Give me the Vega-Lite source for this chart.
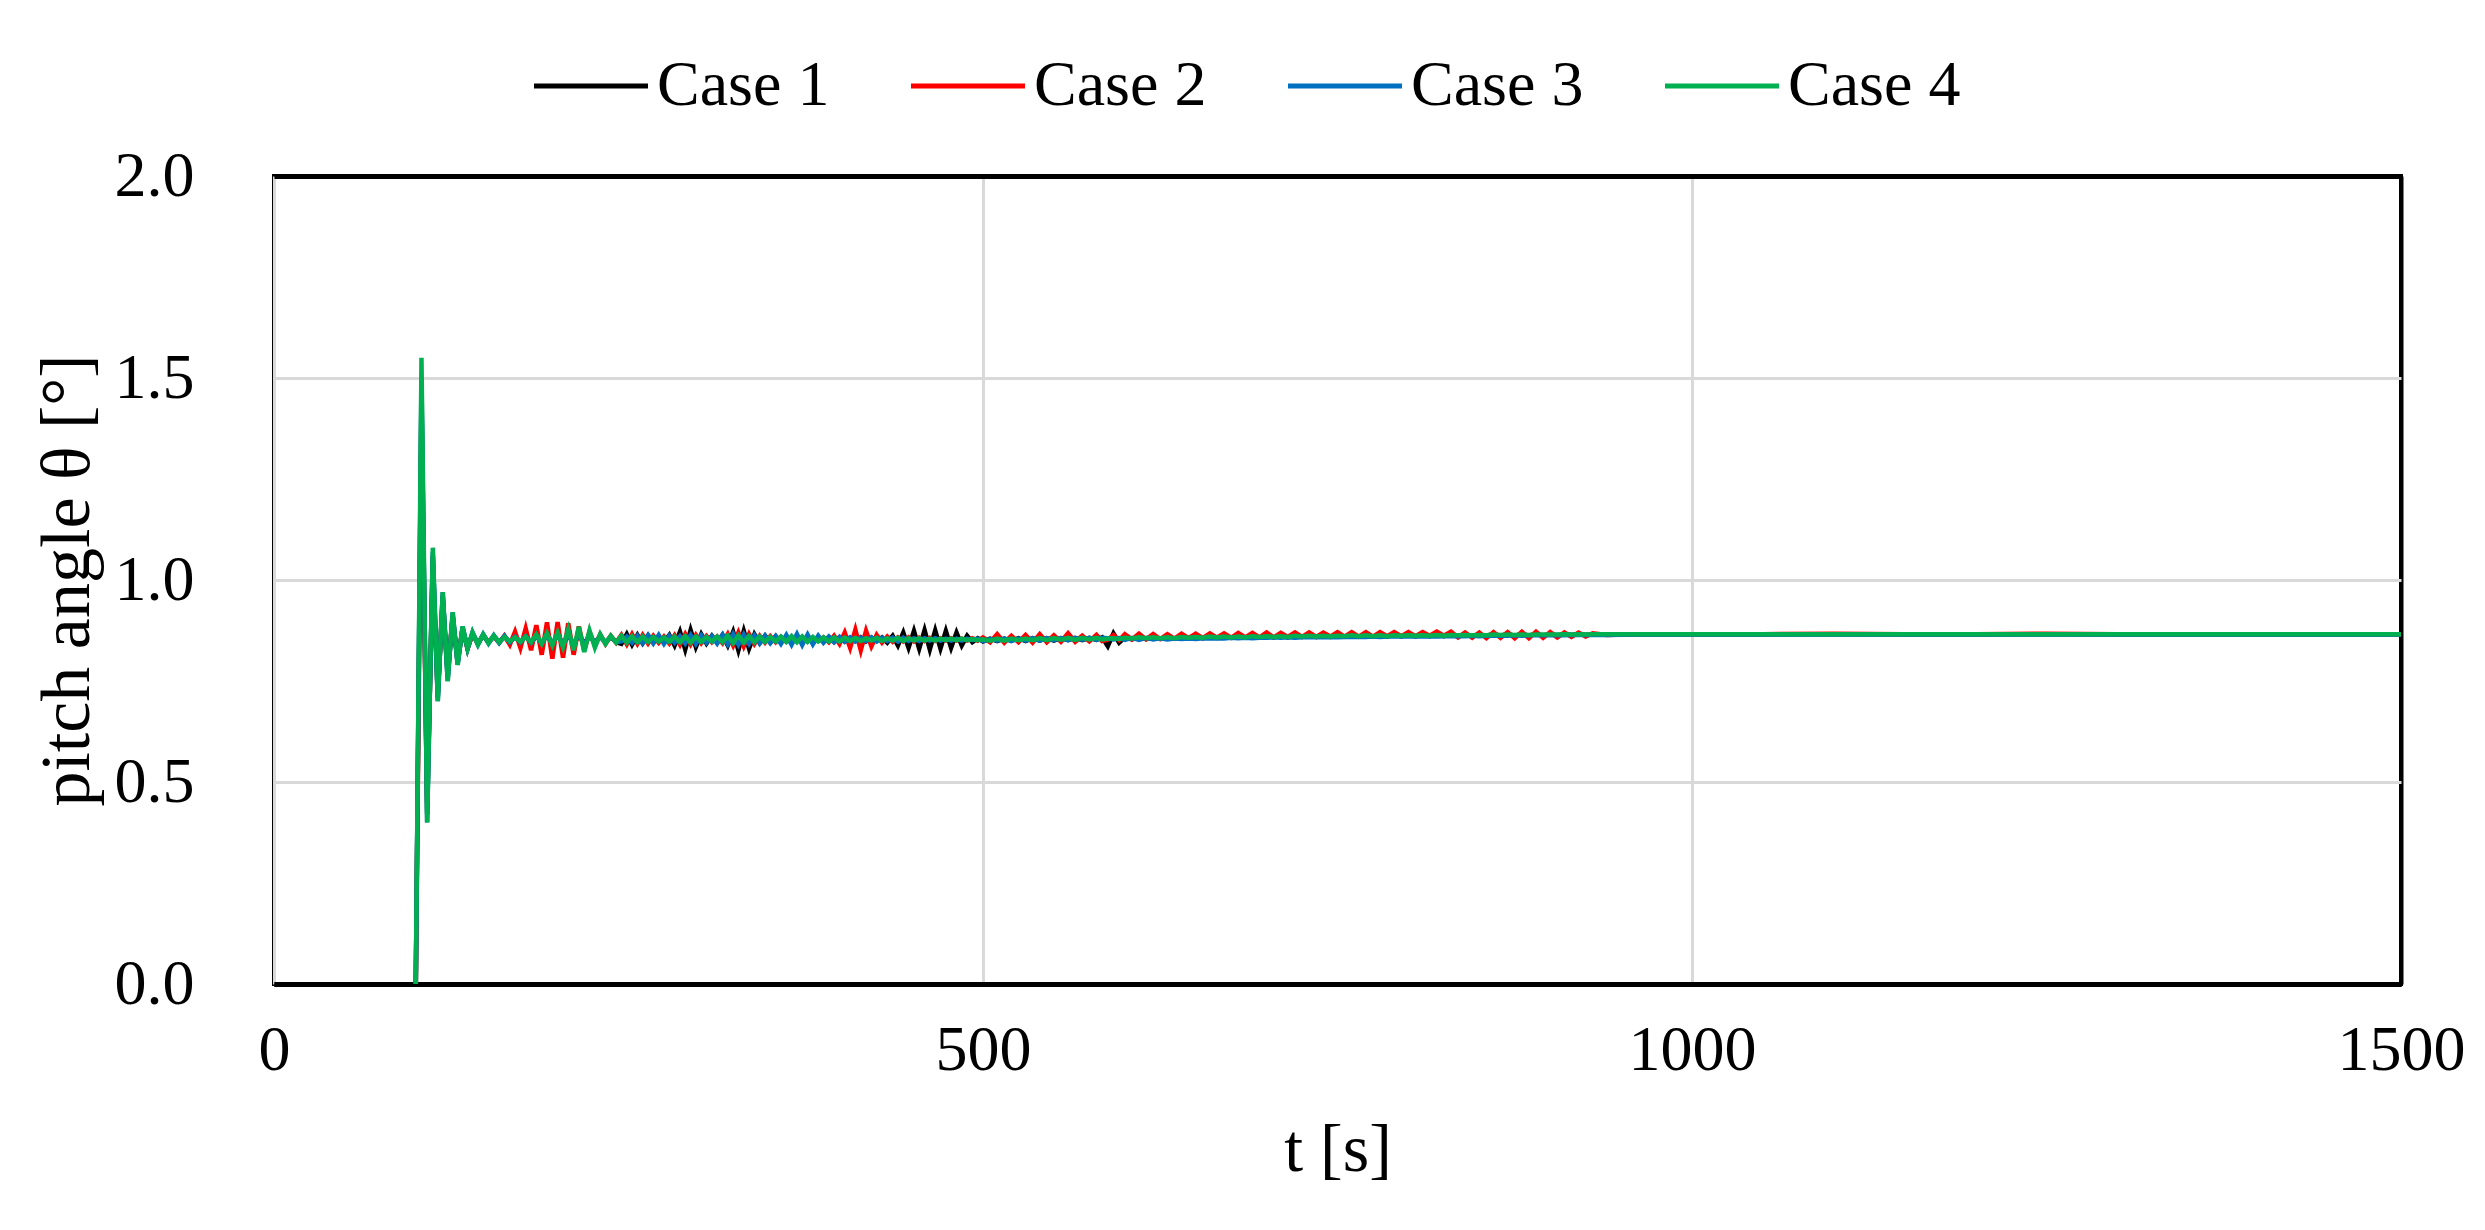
{
"$schema": "https://vega.github.io/schema/vega-lite/v6.json",
"width": 2127, "height": 808,
"autosize": {"type": "none"},
"padding": {"left": 274, "top": 176, "right": 84, "bottom": 246},
"background": "white",
"config": {"view": {"stroke": "black", "strokeWidth": 4}, "font": "Liberation Serif"},
"data": {"values": [
{"t":100,"Case 1":0,"Case 2":0,"Case 3":0,"Case 4":0},
{"t":104,"Case 1":1.46,"Case 2":1.38,"Case 3":1.5,"Case 4":1.55},
{"t":108,"Case 1":0.42,"Case 2":0.45,"Case 3":0.4,"Case 4":0.4},
{"t":112,"Case 1":1.06,"Case 2":1.03,"Case 3":1.07,"Case 4":1.08},
{"t":115.5,"Case 1":0.71,"Case 2":0.72,"Case 3":0.7,"Case 4":0.7},
{"t":119,"Case 1":0.96,"Case 2":0.95,"Case 3":0.97,"Case 4":0.97},
{"t":122.5,"Case 1":0.76,"Case 2":0.77,"Case 3":0.75,"Case 4":0.75},
{"t":126,"Case 1":0.91,"Case 2":0.91,"Case 3":0.92,"Case 4":0.92},
{"t":129.5,"Case 1":0.795,"Case 2":0.8,"Case 3":0.79,"Case 4":0.79},
{"t":133,"Case 1":0.88,"Case 2":0.88,"Case 3":0.885,"Case 4":0.885},
{"t":136.5,"Case 1":0.83,"Case 2":0.83,"Case 3":0.83,"Case 4":0.83},
{"t":140,"Case 1":0.868,"Case 2":0.866,"Case 3":0.87,"Case 4":0.87},
{"t":143.8,"Case 1":0.842,"Case 2":0.843,"Case 3":0.84,"Case 4":0.84},
{"t":147.5,"Case 1":0.864,"Case 2":0.862,"Case 3":0.866,"Case 4":0.865},
{"t":151.3,"Case 1":0.845,"Case 2":0.846,"Case 3":0.843,"Case 4":0.844},
{"t":155,"Case 1":0.861,"Case 2":0.86,"Case 3":0.863,"Case 4":0.862},
{"t":158.8,"Case 1":0.846,"Case 2":0.845,"Case 3":0.844,"Case 4":0.846},
{"t":162.5,"Case 1":0.86,"Case 2":0.862,"Case 3":0.861,"Case 4":0.859},
{"t":166.3,"Case 1":0.845,"Case 2":0.84,"Case 3":0.846,"Case 4":0.848},
{"t":170,"Case 1":0.862,"Case 2":0.872,"Case 3":0.859,"Case 4":0.858},
{"t":173.8,"Case 1":0.844,"Case 2":0.832,"Case 3":0.846,"Case 4":0.847},
{"t":177.5,"Case 1":0.863,"Case 2":0.88,"Case 3":0.861,"Case 4":0.86},
{"t":181.3,"Case 1":0.843,"Case 2":0.826,"Case 3":0.845,"Case 4":0.846},
{"t":185,"Case 1":0.864,"Case 2":0.888,"Case 3":0.862,"Case 4":0.865},
{"t":188.8,"Case 1":0.842,"Case 2":0.815,"Case 3":0.843,"Case 4":0.842},
{"t":192.5,"Case 1":0.866,"Case 2":0.895,"Case 3":0.864,"Case 4":0.868},
{"t":196.3,"Case 1":0.84,"Case 2":0.805,"Case 3":0.842,"Case 4":0.838},
{"t":200,"Case 1":0.867,"Case 2":0.896,"Case 3":0.866,"Case 4":0.87},
{"t":203.8,"Case 1":0.839,"Case 2":0.808,"Case 3":0.84,"Case 4":0.834},
{"t":207.5,"Case 1":0.865,"Case 2":0.893,"Case 3":0.864,"Case 4":0.878},
{"t":211.3,"Case 1":0.841,"Case 2":0.815,"Case 3":0.842,"Case 4":0.826},
{"t":215,"Case 1":0.863,"Case 2":0.885,"Case 3":0.865,"Case 4":0.884},
{"t":218.8,"Case 1":0.843,"Case 2":0.825,"Case 3":0.841,"Case 4":0.822},
{"t":222.5,"Case 1":0.861,"Case 2":0.872,"Case 3":0.862,"Case 4":0.875},
{"t":226.3,"Case 1":0.845,"Case 2":0.838,"Case 3":0.846,"Case 4":0.833},
{"t":230,"Case 1":0.86,"Case 2":0.865,"Case 3":0.86,"Case 4":0.866},
{"t":233.8,"Case 1":0.846,"Case 2":0.842,"Case 3":0.845,"Case 4":0.842},
{"t":237.5,"Case 1":0.859,"Case 2":0.862,"Case 3":0.86,"Case 4":0.862},
{"t":241.3,"Case 1":0.846,"Case 2":0.845,"Case 3":0.846,"Case 4":0.845},
{"t":245,"Case 1":0.842,"Case 2":0.864,"Case 3":0.848,"Case 4":0.862},
{"t":248.8,"Case 1":0.866,"Case 2":0.841,"Case 3":0.86,"Case 4":0.845},
{"t":252.5,"Case 1":0.84,"Case 2":0.866,"Case 3":0.845,"Case 4":0.861},
{"t":256.3,"Case 1":0.864,"Case 2":0.842,"Case 3":0.862,"Case 4":0.846},
{"t":260,"Case 1":0.843,"Case 2":0.864,"Case 3":0.844,"Case 4":0.86},
{"t":263.8,"Case 1":0.863,"Case 2":0.843,"Case 3":0.863,"Case 4":0.847},
{"t":267.5,"Case 1":0.845,"Case 2":0.862,"Case 3":0.843,"Case 4":0.859},
{"t":271.3,"Case 1":0.861,"Case 2":0.845,"Case 3":0.864,"Case 4":0.848},
{"t":275,"Case 1":0.846,"Case 2":0.86,"Case 3":0.842,"Case 4":0.858},
{"t":278.8,"Case 1":0.864,"Case 2":0.843,"Case 3":0.862,"Case 4":0.847},
{"t":282.5,"Case 1":0.838,"Case 2":0.863,"Case 3":0.845,"Case 4":0.86},
{"t":286.3,"Case 1":0.872,"Case 2":0.84,"Case 3":0.861,"Case 4":0.846},
{"t":290,"Case 1":0.828,"Case 2":0.866,"Case 3":0.843,"Case 4":0.861},
{"t":293.8,"Case 1":0.876,"Case 2":0.841,"Case 3":0.864,"Case 4":0.845},
{"t":297.5,"Case 1":0.834,"Case 2":0.864,"Case 3":0.842,"Case 4":0.86},
{"t":301.3,"Case 1":0.866,"Case 2":0.844,"Case 3":0.863,"Case 4":0.847},
{"t":305,"Case 1":0.843,"Case 2":0.861,"Case 3":0.845,"Case 4":0.859},
{"t":308.8,"Case 1":0.862,"Case 2":0.846,"Case 3":0.861,"Case 4":0.848},
{"t":312.5,"Case 1":0.845,"Case 2":0.86,"Case 3":0.843,"Case 4":0.86},
{"t":316.3,"Case 1":0.864,"Case 2":0.844,"Case 3":0.864,"Case 4":0.846},
{"t":320,"Case 1":0.838,"Case 2":0.866,"Case 3":0.841,"Case 4":0.862},
{"t":323.8,"Case 1":0.872,"Case 2":0.838,"Case 3":0.866,"Case 4":0.844},
{"t":327.5,"Case 1":0.826,"Case 2":0.87,"Case 3":0.84,"Case 4":0.863},
{"t":331.3,"Case 1":0.874,"Case 2":0.836,"Case 3":0.865,"Case 4":0.845},
{"t":335,"Case 1":0.83,"Case 2":0.866,"Case 3":0.842,"Case 4":0.861},
{"t":338.8,"Case 1":0.866,"Case 2":0.842,"Case 3":0.863,"Case 4":0.846},
{"t":342.5,"Case 1":0.844,"Case 2":0.862,"Case 3":0.843,"Case 4":0.86},
{"t":346.3,"Case 1":0.862,"Case 2":0.845,"Case 3":0.862,"Case 4":0.847},
{"t":350,"Case 1":0.845,"Case 2":0.861,"Case 3":0.844,"Case 4":0.859},
{"t":353.8,"Case 1":0.861,"Case 2":0.846,"Case 3":0.861,"Case 4":0.848},
{"t":357.5,"Case 1":0.846,"Case 2":0.859,"Case 3":0.842,"Case 4":0.86},
{"t":361.3,"Case 1":0.86,"Case 2":0.847,"Case 3":0.864,"Case 4":0.847},
{"t":365,"Case 1":0.847,"Case 2":0.858,"Case 3":0.84,"Case 4":0.861},
{"t":368.8,"Case 1":0.859,"Case 2":0.848,"Case 3":0.866,"Case 4":0.846},
{"t":372.5,"Case 1":0.848,"Case 2":0.858,"Case 3":0.839,"Case 4":0.86},
{"t":376.3,"Case 1":0.858,"Case 2":0.848,"Case 3":0.865,"Case 4":0.847},
{"t":380,"Case 1":0.849,"Case 2":0.857,"Case 3":0.841,"Case 4":0.859},
{"t":383.8,"Case 1":0.858,"Case 2":0.849,"Case 3":0.862,"Case 4":0.848},
{"t":387.5,"Case 1":0.848,"Case 2":0.858,"Case 3":0.845,"Case 4":0.858},
{"t":391.3,"Case 1":0.859,"Case 2":0.846,"Case 3":0.86,"Case 4":0.848},
{"t":395,"Case 1":0.847,"Case 2":0.862,"Case 3":0.846,"Case 4":0.858},
{"t":398.8,"Case 1":0.858,"Case 2":0.842,"Case 3":0.859,"Case 4":0.848},
{"t":402.5,"Case 1":0.848,"Case 2":0.87,"Case 3":0.847,"Case 4":0.857},
{"t":406.3,"Case 1":0.857,"Case 2":0.832,"Case 3":0.858,"Case 4":0.849},
{"t":410,"Case 1":0.849,"Case 2":0.877,"Case 3":0.848,"Case 4":0.857},
{"t":413.8,"Case 1":0.858,"Case 2":0.826,"Case 3":0.857,"Case 4":0.849},
{"t":417.5,"Case 1":0.848,"Case 2":0.874,"Case 3":0.849,"Case 4":0.856},
{"t":421.3,"Case 1":0.857,"Case 2":0.836,"Case 3":0.858,"Case 4":0.85},
{"t":425,"Case 1":0.849,"Case 2":0.864,"Case 3":0.848,"Case 4":0.857},
{"t":428.8,"Case 1":0.858,"Case 2":0.845,"Case 3":0.857,"Case 4":0.849},
{"t":432.5,"Case 1":0.845,"Case 2":0.86,"Case 3":0.849,"Case 4":0.856},
{"t":436.3,"Case 1":0.862,"Case 2":0.847,"Case 3":0.857,"Case 4":0.85},
{"t":440,"Case 1":0.838,"Case 2":0.858,"Case 3":0.848,"Case 4":0.857},
{"t":443.8,"Case 1":0.87,"Case 2":0.848,"Case 3":0.857,"Case 4":0.849},
{"t":447.5,"Case 1":0.832,"Case 2":0.858,"Case 3":0.849,"Case 4":0.856},
{"t":451.3,"Case 1":0.874,"Case 2":0.848,"Case 3":0.856,"Case 4":0.85},
{"t":455,"Case 1":0.83,"Case 2":0.857,"Case 3":0.849,"Case 4":0.856},
{"t":458.8,"Case 1":0.876,"Case 2":0.849,"Case 3":0.856,"Case 4":0.85},
{"t":462.5,"Case 1":0.828,"Case 2":0.857,"Case 3":0.85,"Case 4":0.855},
{"t":466.3,"Case 1":0.875,"Case 2":0.849,"Case 3":0.856,"Case 4":0.85},
{"t":470,"Case 1":0.83,"Case 2":0.856,"Case 3":0.85,"Case 4":0.855},
{"t":473.8,"Case 1":0.874,"Case 2":0.85,"Case 3":0.855,"Case 4":0.851},
{"t":477.5,"Case 1":0.832,"Case 2":0.856,"Case 3":0.85,"Case 4":0.855},
{"t":481.3,"Case 1":0.87,"Case 2":0.85,"Case 3":0.855,"Case 4":0.851},
{"t":485,"Case 1":0.838,"Case 2":0.855,"Case 3":0.85,"Case 4":0.855},
{"t":488.8,"Case 1":0.862,"Case 2":0.85,"Case 3":0.855,"Case 4":0.851},
{"t":492.5,"Case 1":0.846,"Case 2":0.856,"Case 3":0.851,"Case 4":0.854},
{"t":496.3,"Case 1":0.856,"Case 2":0.85,"Case 3":0.855,"Case 4":0.851},
{"t":500,"Case 1":0.848,"Case 2":0.858,"Case 3":0.849,"Case 4":0.853},
{"t":505,"Case 1":0.855,"Case 2":0.846,"Case 3":0.854,"Case 4":0.85},
{"t":510,"Case 1":0.849,"Case 2":0.866,"Case 3":0.85,"Case 4":0.855},
{"t":515,"Case 1":0.855,"Case 2":0.845,"Case 3":0.855,"Case 4":0.85},
{"t":520,"Case 1":0.85,"Case 2":0.862,"Case 3":0.849,"Case 4":0.855},
{"t":525,"Case 1":0.856,"Case 2":0.846,"Case 3":0.855,"Case 4":0.851},
{"t":530,"Case 1":0.849,"Case 2":0.864,"Case 3":0.85,"Case 4":0.855},
{"t":535,"Case 1":0.856,"Case 2":0.845,"Case 3":0.856,"Case 4":0.851},
{"t":540,"Case 1":0.85,"Case 2":0.866,"Case 3":0.85,"Case 4":0.856},
{"t":545,"Case 1":0.856,"Case 2":0.846,"Case 3":0.856,"Case 4":0.851},
{"t":550,"Case 1":0.85,"Case 2":0.863,"Case 3":0.851,"Case 4":0.856},
{"t":555,"Case 1":0.856,"Case 2":0.847,"Case 3":0.856,"Case 4":0.852},
{"t":560,"Case 1":0.851,"Case 2":0.868,"Case 3":0.851,"Case 4":0.857},
{"t":565,"Case 1":0.857,"Case 2":0.847,"Case 3":0.856,"Case 4":0.852},
{"t":570,"Case 1":0.851,"Case 2":0.862,"Case 3":0.852,"Case 4":0.857},
{"t":575,"Case 1":0.857,"Case 2":0.848,"Case 3":0.857,"Case 4":0.853},
{"t":580,"Case 1":0.852,"Case 2":0.864,"Case 3":0.852,"Case 4":0.857},
{"t":584,"Case 1":0.858,"Case 2":0.849,"Case 3":0.857,"Case 4":0.853},
{"t":588,"Case 1":0.836,"Case 2":0.852,"Case 3":0.856,"Case 4":0.855},
{"t":592,"Case 1":0.868,"Case 2":0.864,"Case 3":0.853,"Case 4":0.856},
{"t":596,"Case 1":0.845,"Case 2":0.851,"Case 3":0.856,"Case 4":0.854},
{"t":600,"Case 1":0.858,"Case 2":0.866,"Case 3":0.852,"Case 4":0.857},
{"t":605,"Case 1":0.853,"Case 2":0.853,"Case 3":0.857,"Case 4":0.855},
{"t":610,"Case 1":0.858,"Case 2":0.867,"Case 3":0.852,"Case 4":0.858},
{"t":615,"Case 1":0.854,"Case 2":0.853,"Case 3":0.857,"Case 4":0.856},
{"t":620,"Case 1":0.859,"Case 2":0.866,"Case 3":0.853,"Case 4":0.858},
{"t":625,"Case 1":0.855,"Case 2":0.854,"Case 3":0.856,"Case 4":0.856},
{"t":630,"Case 1":0.859,"Case 2":0.866,"Case 3":0.853,"Case 4":0.858},
{"t":635,"Case 1":0.855,"Case 2":0.855,"Case 3":0.855,"Case 4":0.856},
{"t":640,"Case 1":0.86,"Case 2":0.867,"Case 3":0.854,"Case 4":0.859},
{"t":645,"Case 1":0.856,"Case 2":0.856,"Case 3":0.855,"Case 4":0.857},
{"t":650,"Case 1":0.86,"Case 2":0.867,"Case 3":0.854,"Case 4":0.859},
{"t":655,"Case 1":0.856,"Case 2":0.856,"Case 3":0.856,"Case 4":0.857},
{"t":660,"Case 1":0.861,"Case 2":0.868,"Case 3":0.855,"Case 4":0.86},
{"t":665,"Case 1":0.857,"Case 2":0.857,"Case 3":0.856,"Case 4":0.858},
{"t":670,"Case 1":0.861,"Case 2":0.868,"Case 3":0.855,"Case 4":0.86},
{"t":675,"Case 1":0.857,"Case 2":0.857,"Case 3":0.857,"Case 4":0.858},
{"t":680,"Case 1":0.861,"Case 2":0.869,"Case 3":0.856,"Case 4":0.86},
{"t":685,"Case 1":0.857,"Case 2":0.858,"Case 3":0.857,"Case 4":0.858},
{"t":690,"Case 1":0.862,"Case 2":0.869,"Case 3":0.856,"Case 4":0.861},
{"t":695,"Case 1":0.858,"Case 2":0.858,"Case 3":0.857,"Case 4":0.859},
{"t":700,"Case 1":0.862,"Case 2":0.87,"Case 3":0.857,"Case 4":0.861},
{"t":705,"Case 1":0.858,"Case 2":0.858,"Case 3":0.858,"Case 4":0.859},
{"t":710,"Case 1":0.862,"Case 2":0.869,"Case 3":0.857,"Case 4":0.861},
{"t":715,"Case 1":0.858,"Case 2":0.859,"Case 3":0.858,"Case 4":0.859},
{"t":720,"Case 1":0.863,"Case 2":0.87,"Case 3":0.857,"Case 4":0.862},
{"t":725,"Case 1":0.859,"Case 2":0.859,"Case 3":0.858,"Case 4":0.86},
{"t":730,"Case 1":0.863,"Case 2":0.87,"Case 3":0.858,"Case 4":0.862},
{"t":735,"Case 1":0.859,"Case 2":0.859,"Case 3":0.859,"Case 4":0.86},
{"t":740,"Case 1":0.863,"Case 2":0.87,"Case 3":0.858,"Case 4":0.862},
{"t":745,"Case 1":0.859,"Case 2":0.86,"Case 3":0.859,"Case 4":0.86},
{"t":750,"Case 1":0.863,"Case 2":0.871,"Case 3":0.858,"Case 4":0.862},
{"t":755,"Case 1":0.86,"Case 2":0.86,"Case 3":0.859,"Case 4":0.861},
{"t":760,"Case 1":0.864,"Case 2":0.871,"Case 3":0.859,"Case 4":0.863},
{"t":765,"Case 1":0.86,"Case 2":0.86,"Case 3":0.859,"Case 4":0.861},
{"t":770,"Case 1":0.864,"Case 2":0.871,"Case 3":0.859,"Case 4":0.863},
{"t":775,"Case 1":0.86,"Case 2":0.86,"Case 3":0.86,"Case 4":0.861},
{"t":780,"Case 1":0.864,"Case 2":0.871,"Case 3":0.859,"Case 4":0.863},
{"t":785,"Case 1":0.86,"Case 2":0.861,"Case 3":0.86,"Case 4":0.861},
{"t":790,"Case 1":0.864,"Case 2":0.871,"Case 3":0.86,"Case 4":0.863},
{"t":795,"Case 1":0.861,"Case 2":0.861,"Case 3":0.86,"Case 4":0.862},
{"t":800,"Case 1":0.864,"Case 2":0.871,"Case 3":0.86,"Case 4":0.863},
{"t":805,"Case 1":0.861,"Case 2":0.861,"Case 3":0.861,"Case 4":0.862},
{"t":810,"Case 1":0.865,"Case 2":0.871,"Case 3":0.86,"Case 4":0.863},
{"t":815,"Case 1":0.861,"Case 2":0.862,"Case 3":0.861,"Case 4":0.862},
{"t":820,"Case 1":0.865,"Case 2":0.872,"Case 3":0.86,"Case 4":0.864},
{"t":825,"Case 1":0.861,"Case 2":0.862,"Case 3":0.861,"Case 4":0.862},
{"t":830,"Case 1":0.865,"Case 2":0.872,"Case 3":0.861,"Case 4":0.864},
{"t":835,"Case 1":0.862,"Case 2":0.858,"Case 3":0.861,"Case 4":0.863},
{"t":840,"Case 1":0.865,"Case 2":0.87,"Case 3":0.861,"Case 4":0.864},
{"t":845,"Case 1":0.862,"Case 2":0.857,"Case 3":0.862,"Case 4":0.863},
{"t":850,"Case 1":0.865,"Case 2":0.87,"Case 3":0.861,"Case 4":0.864},
{"t":855,"Case 1":0.862,"Case 2":0.856,"Case 3":0.862,"Case 4":0.863},
{"t":860,"Case 1":0.866,"Case 2":0.871,"Case 3":0.862,"Case 4":0.865},
{"t":865,"Case 1":0.862,"Case 2":0.857,"Case 3":0.862,"Case 4":0.864},
{"t":870,"Case 1":0.866,"Case 2":0.871,"Case 3":0.862,"Case 4":0.865},
{"t":875,"Case 1":0.862,"Case 2":0.856,"Case 3":0.863,"Case 4":0.864},
{"t":880,"Case 1":0.866,"Case 2":0.872,"Case 3":0.862,"Case 4":0.865},
{"t":885,"Case 1":0.863,"Case 2":0.856,"Case 3":0.863,"Case 4":0.864},
{"t":890,"Case 1":0.866,"Case 2":0.872,"Case 3":0.863,"Case 4":0.865},
{"t":895,"Case 1":0.863,"Case 2":0.857,"Case 3":0.863,"Case 4":0.865},
{"t":900,"Case 1":0.866,"Case 2":0.871,"Case 3":0.863,"Case 4":0.865},
{"t":905,"Case 1":0.863,"Case 2":0.858,"Case 3":0.864,"Case 4":0.865},
{"t":910,"Case 1":0.866,"Case 2":0.87,"Case 3":0.863,"Case 4":0.866},
{"t":915,"Case 1":0.864,"Case 2":0.859,"Case 3":0.864,"Case 4":0.865},
{"t":920,"Case 1":0.866,"Case 2":0.87,"Case 3":0.864,"Case 4":0.866},
{"t":925,"Case 1":0.864,"Case 2":0.86,"Case 3":0.864,"Case 4":0.865},
{"t":930,"Case 1":0.866,"Case 2":0.868,"Case 3":0.864,"Case 4":0.866},
{"t":940,"Case 1":0.865,"Case 2":0.864,"Case 3":0.864,"Case 4":0.866},
{"t":960,"Case 1":0.866,"Case 2":0.866,"Case 3":0.865,"Case 4":0.866},
{"t":980,"Case 1":0.866,"Case 2":0.866,"Case 3":0.865,"Case 4":0.866},
{"t":1000,"Case 1":0.866,"Case 2":0.866,"Case 3":0.865,"Case 4":0.866},
{"t":1050,"Case 1":0.866,"Case 2":0.866,"Case 3":0.865,"Case 4":0.866},
{"t":1100,"Case 1":0.866,"Case 2":0.867,"Case 3":0.865,"Case 4":0.866},
{"t":1150,"Case 1":0.866,"Case 2":0.866,"Case 3":0.865,"Case 4":0.866},
{"t":1200,"Case 1":0.866,"Case 2":0.866,"Case 3":0.865,"Case 4":0.866},
{"t":1250,"Case 1":0.866,"Case 2":0.867,"Case 3":0.865,"Case 4":0.866},
{"t":1300,"Case 1":0.866,"Case 2":0.866,"Case 3":0.865,"Case 4":0.866},
{"t":1350,"Case 1":0.866,"Case 2":0.866,"Case 3":0.865,"Case 4":0.866},
{"t":1400,"Case 1":0.866,"Case 2":0.866,"Case 3":0.865,"Case 4":0.866},
{"t":1450,"Case 1":0.866,"Case 2":0.866,"Case 3":0.865,"Case 4":0.866},
{"t":1500,"Case 1":0.866,"Case 2":0.866,"Case 3":0.865,"Case 4":0.866}
]},
"transform": [{"fold": ["Case 1", "Case 2", "Case 3", "Case 4"], "as": ["case", "v"]}],
"mark": {"type": "line", "strokeWidth": 4.5, "clip": true},
"encoding": {
  "x": {"field": "t", "type": "quantitative", "scale": {"domain": [0, 1500], "nice": false},
    "axis": {"values": [0, 500, 1000, 1500], "format": "d", "title": "t [s]", "grid": true,
      "gridColor": {"condition": {"test": "datum.value >= 1500", "value": "black"}, "value": "#D9D9D9"},
      "gridWidth": {"condition": {"test": "datum.value >= 1500", "value": 4}, "value": 3},
      "ticks": false, "domain": true, "domainColor": "black", "domainWidth": 5, "labelFlush": false,
      "labelFont": "Liberation Serif", "labelFontSize": 64, "labelColor": "black", "labelPadding": 34,
      "titleFont": "Liberation Serif", "titleFontSize": 68, "titleFontWeight": "normal", "titleColor": "black",
      "titleY": 166, "titleBaseline": "middle"}},
  "y": {"field": "v", "type": "quantitative", "scale": {"domain": [0, 2], "nice": false},
    "axis": {"values": [0, 0.5, 1, 1.5, 2], "format": ".1f", "title": "pitch angle θ [°]", "grid": true,
      "gridColor": {"condition": {"test": "datum.value >= 2 || datum.value <= 0", "value": "black"}, "value": "#D9D9D9"},
      "gridWidth": {"condition": {"test": "datum.value >= 2 || datum.value <= 0", "value": 5}, "value": 3},
      "ticks": false, "domain": false, "labelFlush": false,
      "labelFont": "Liberation Serif", "labelFontSize": 64, "labelColor": "black", "labelPadding": 80,
      "titleFont": "Liberation Serif", "titleFontSize": 70, "titleFontWeight": "normal", "titleColor": "black",
      "titleX": -207, "titleY": 404, "titleAngle": 270, "titleBaseline": "middle", "titleAlign": "center"}},
  "color": {"field": "case", "type": "nominal",
    "scale": {"domain": ["Case 1", "Case 2", "Case 3", "Case 4"], "range": ["#000000", "#FF0000", "#0070C0", "#00B050"]},
    "legend": {"orient": "none", "legendX": 257, "legendY": -150, "direction": "horizontal", "title": null,
      "symbolType": "stroke", "symbolSize": 13000, "symbolStrokeWidth": 5, "padding": 0,
      "labelFont": "Liberation Serif", "labelFontSize": 64, "labelColor": "black", "labelOffset": 6, "labelLimit": 500,
      "columnPadding": 70}}
}
}
